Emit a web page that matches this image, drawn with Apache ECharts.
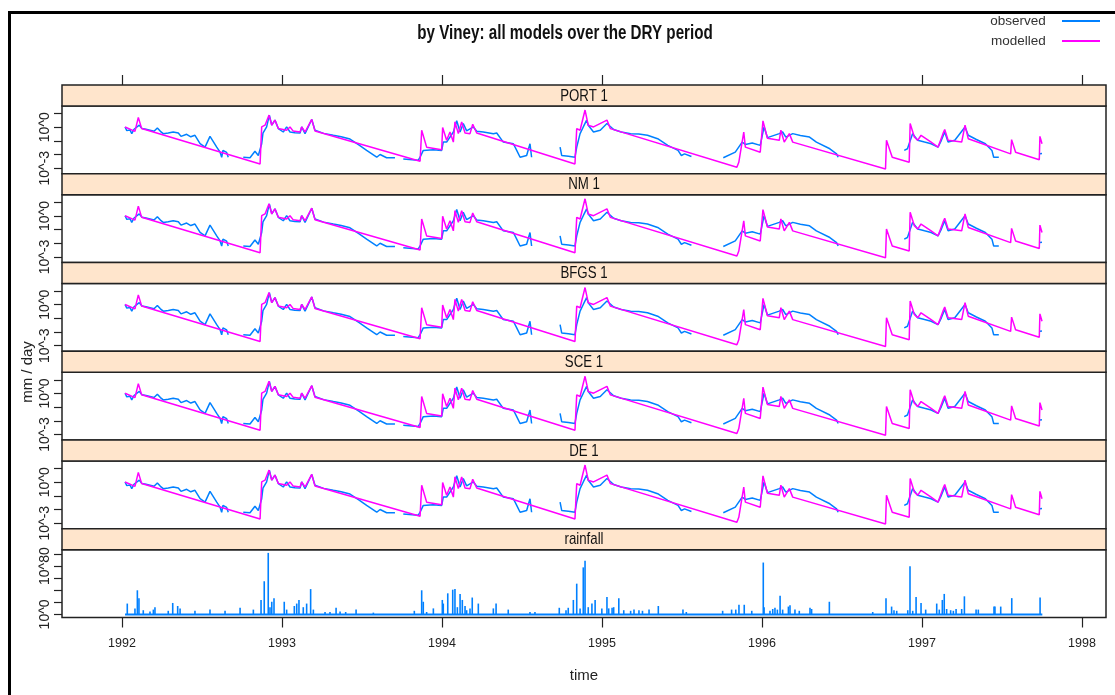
<!DOCTYPE html>
<html><head><meta charset="utf-8">
<script src="https://cdn.jsdelivr.net/npm/echarts@6/dist/echarts.min.js"></script>
<style>html,body{margin:0;padding:0;background:#fff}#c{width:1115px;height:695px}</style>
</head><body><div id="c"></div>
<script>
// ---------------- data ----------------
const yearTicks = [1992, 1993, 1994, 1995, 1996, 1997, 1998];
const flowTicks = [-3, -2, -1, 0, 1];          // log10(mm/day)
const flowLabels = [-3, 0];
const rainTicks = [0, 20, 40, 60, 80, 100];
const rainLabels = [0, 80];
const panelNames = ['PORT 1', 'NM 1', 'BFGS 1', 'SCE 1', 'DE 1', 'rainfall'];

// observed flow, [decimal year, log10(mm/day)], null = gap
const observedLog10 = [[1992.019,0.02],[1992.030,-0.25],[1992.038,-0.37],[1992.050,-0.20],[1992.061,-0.47],[1992.075,-0.15],[1992.108,0.15],[1992.125,-0.10],[1992.150,-0.15],[1992.175,-0.22],[1992.200,-0.30],[1992.221,-0.05],[1992.240,-0.30],[1992.258,-0.47],[1992.289,-0.42],[1992.320,-0.35],[1992.352,-0.42],[1992.369,-0.67],[1992.404,-0.52],[1992.430,-0.70],[1992.456,-0.59],[1992.488,-1.21],[1992.519,-1.46],[1992.550,-0.67],[1992.592,-1.46],[1992.613,-1.83],[1992.623,-2.20],[1992.631,-1.70],[1992.654,-1.85],[1992.664,-2.20],[1992.71,null],[1992.758,-2.20],[1992.800,-2.24],[1992.831,-1.76],[1992.852,-2.07],[1992.873,-1.21],[1992.881,-0.44],[1992.904,0.02],[1992.921,0.89],[1992.936,0.15],[1992.956,0.52],[1992.977,-0.10],[1993.008,-0.35],[1993.029,0.02],[1993.050,-0.35],[1993.080,-0.40],[1993.113,-0.42],[1993.123,0.02],[1993.144,-0.47],[1993.186,0.57],[1993.206,-0.22],[1993.260,-0.45],[1993.321,-0.59],[1993.370,-0.70],[1993.425,-0.87],[1993.480,-1.30],[1993.529,-1.70],[1993.592,-2.20],[1993.613,-2.00],[1993.654,-2.24],[1993.706,-2.24],[1993.73,null],[1993.758,-2.32],[1993.852,-2.42],[1993.863,-2.20],[1993.883,-1.70],[1993.946,-1.65],[1993.998,-1.70],[1994.008,-1.09],[1994.029,-1.09],[1994.071,-0.35],[1994.092,0.47],[1994.113,-0.35],[1994.133,0.27],[1994.154,-0.27],[1994.196,0.02],[1994.217,-0.30],[1994.258,-0.35],[1994.321,-0.47],[1994.342,-0.42],[1994.383,-1.09],[1994.446,-1.21],[1994.467,-1.70],[1994.488,-2.20],[1994.529,-2.07],[1994.550,-1.21],[1994.560,-2.20],[1994.65,null],[1994.738,-1.46],[1994.748,-2.07],[1994.790,-2.13],[1994.831,-2.20],[1994.842,-1.46],[1994.863,-0.47],[1994.883,0.02],[1994.904,0.52],[1994.914,0.15],[1994.947,-0.35],[1994.989,-0.22],[1995.031,0.27],[1995.073,-0.17],[1995.120,-0.35],[1995.179,-0.47],[1995.230,-0.50],[1995.284,-0.59],[1995.348,-0.84],[1995.411,-1.33],[1995.475,-1.70],[1995.496,-2.07],[1995.516,-1.95],[1995.559,-2.15],[1995.66,null],[1995.758,-2.24],[1995.833,-1.83],[1995.876,-1.09],[1995.896,-1.26],[1995.939,-1.16],[1995.989,-1.33],[1996.013,0.02],[1996.034,-0.76],[1996.108,-0.47],[1996.129,-0.35],[1996.149,-0.72],[1996.192,-0.47],[1996.240,-0.60],[1996.297,-0.72],[1996.340,-1.09],[1996.424,-1.58],[1996.466,-1.95],[1996.476,-2.20],[1996.67,null],[1996.889,-1.70],[1996.909,-1.58],[1996.941,-0.47],[1996.973,-0.96],[1997.016,-1.09],[1997.057,-1.21],[1997.100,-1.46],[1997.121,-0.96],[1997.142,-0.35],[1997.163,-1.09],[1997.205,-0.96],[1997.269,0.02],[1997.289,-0.59],[1997.340,-0.90],[1997.396,-1.21],[1997.437,-1.70],[1997.448,-2.20],[1997.480,-2.20],[1997.64,null],[1997.737,-1.95],[1997.750,-1.93]];

// modelled flow, [decimal year, log10(mm/day)]
const modelledPORT = [[1992.019,0.02],[1992.081,-0.30],[1992.102,0.72],[1992.123,-0.10],[1992.863,-2.69],[1992.873,0.02],[1992.894,0.15],[1992.919,0.89],[1992.936,0.15],[1992.956,0.52],[1992.977,-0.10],[1993.029,-0.22],[1993.050,0.02],[1993.069,-0.27],[1993.113,-0.35],[1993.123,0.02],[1993.144,-0.35],[1993.186,0.57],[1993.206,-0.27],[1993.863,-2.50],[1993.873,-0.22],[1993.904,-1.46],[1993.998,-1.65],[1994.004,-0.02],[1994.029,-0.96],[1994.050,-0.35],[1994.071,-1.09],[1994.081,0.39],[1994.102,-0.47],[1994.123,0.39],[1994.144,-0.42],[1994.175,-0.47],[1994.192,0.22],[1994.217,-0.42],[1994.831,-2.69],[1994.842,-0.10],[1994.863,-0.22],[1994.894,1.26],[1994.914,0.15],[1994.947,0.02],[1995.031,0.52],[1995.052,-0.10],[1995.843,-2.94],[1995.855,-2.57],[1995.886,-0.35],[1995.896,-1.46],[1995.989,-1.83],[1996.006,0.47],[1996.034,-0.81],[1996.108,-0.96],[1996.118,-0.22],[1996.139,-1.09],[1996.171,-0.47],[1996.192,-1.09],[1996.772,-3.06],[1996.778,-0.96],[1996.814,-2.20],[1996.920,-2.57],[1996.926,0.27],[1996.952,-0.72],[1996.973,-0.96],[1996.994,-0.59],[1997.057,-1.09],[1997.100,-1.46],[1997.131,-0.47],[1997.142,-0.17],[1997.163,-0.96],[1997.248,-1.09],[1997.269,0.15],[1997.289,-0.84],[1997.554,-1.95],[1997.560,-0.91],[1997.585,-1.83],[1997.733,-2.39],[1997.737,-0.67],[1997.750,-1.21]];
const modelledNM = modelledPORT;
const modelledBFGS = modelledPORT;
const modelledSCE = modelledPORT;
const modelledDE = modelledPORT;
const modelledSets = [modelledPORT, modelledNM, modelledBFGS, modelledSCE, modelledDE];

// rainfall, [decimal year, mm/day]
const rainfall = [[1992.033,18],[1992.081,10],[1992.096,40],[1992.106,27],[1992.133,7],[1992.175,5],[1992.196,8],[1992.206,12],[1992.289,6],[1992.317,19],[1992.348,14],[1992.363,10],[1992.456,6],[1992.550,8],[1992.644,6],[1992.738,11],[1992.821,8],[1992.869,24],[1992.889,55],[1992.914,102],[1992.925,12],[1992.936,21],[1992.950,27],[1993.014,21],[1993.029,8],[1993.077,14],[1993.092,18],[1993.106,24],[1993.133,12],[1993.154,18],[1993.179,42],[1993.196,8],[1993.269,4],[1993.300,4],[1993.338,11],[1993.363,5],[1993.398,4],[1993.463,8],[1993.571,3],[1993.827,6],[1993.873,40],[1993.883,21],[1993.904,4],[1993.946,10],[1994.002,24],[1994.008,18],[1994.036,35],[1994.067,41],[1994.081,42],[1994.096,12],[1994.113,34],[1994.127,24],[1994.144,14],[1994.154,7],[1994.175,10],[1994.189,28],[1994.227,18],[1994.321,10],[1994.338,18],[1994.414,8],[1994.550,4],[1994.581,4],[1994.733,11],[1994.775,7],[1994.789,11],[1994.821,24],[1994.842,51],[1994.863,10],[1994.883,78],[1994.894,89],[1994.914,12],[1994.937,18],[1994.957,24],[1994.999,10],[1995.031,29],[1995.042,10],[1995.063,11],[1995.073,12],[1995.105,27],[1995.136,7],[1995.179,6],[1995.200,8],[1995.231,7],[1995.253,6],[1995.294,8],[1995.352,14],[1995.506,8],[1995.527,4],[1995.754,6],[1995.810,8],[1995.836,8],[1995.856,16],[1995.889,16],[1995.936,6],[1996.008,86],[1996.013,12],[1996.050,6],[1996.067,9],[1996.081,11],[1996.096,8],[1996.113,31],[1996.129,8],[1996.165,13],[1996.175,15],[1996.206,8],[1996.233,6],[1996.300,11],[1996.310,9],[1996.421,21],[1996.692,4],[1996.775,27],[1996.810,13],[1996.825,7],[1996.842,6],[1996.911,7],[1996.925,80],[1996.942,6],[1996.963,29],[1996.994,19],[1997.023,8],[1997.092,18],[1997.108,8],[1997.127,24],[1997.139,34],[1997.154,9],[1997.179,7],[1997.196,6],[1997.213,9],[1997.248,9],[1997.265,30],[1997.338,8],[1997.352,8],[1997.450,13],[1997.456,13],[1997.492,13],[1997.561,27],[1997.738,28]];
const rainfallSpan = [1992.019, 1997.752];

// ---------------- layout / style ----------------
const SANS = "'Liberation Sans',Arial,sans-serif";
const BLUE = '#0080ff', MAGENTA = '#ff00ff', INK = '#222';
const LEFT = 62, RIGHT = 1106, WIDTH = RIGHT - LEFT;
const TOP0 = 85, STEP = 88.75, STRIP = 21, PLOT = STEP - STRIP;
const XMIN = 1991.625, XMAX = 1998.15;

const stripTop = i => TOP0 + i * STEP;
const plotTop = i => stripTop(i) + STRIP;
const withGaps = arr => arr.map(p => [p[0], p[1] === null ? '-' : p[1]]);

const grids = [], xAxes = [], yAxes = [], series = [], graphics = [];

for (let i = 0; i < 6; i++) {
  grids.push({left: LEFT, top: plotTop(i), width: WIDTH, height: PLOT,
    show: true, borderColor: INK, borderWidth: 1.5, backgroundColor: 'transparent', containLabel: false});
  const isTop = i === 0, isBottom = i === 5;
  xAxes.push({
    gridIndex: i, type: 'value', min: XMIN, max: XMAX,
    show: isTop || isBottom,
    position: isTop ? 'top' : 'bottom',
    offset: isTop ? STRIP : 0,
    axisLine: {show: false, onZero: false},
    axisTick: {show: true, length: 10, customValues: yearTicks, lineStyle: {color: INK, width: 1.2}},
    axisLabel: {show: isBottom, customValues: yearTicks, margin: 20, fontFamily: SANS, fontSize: 12.5, color: '#222',
      formatter: v => String(v)},
    splitLine: {show: false},
    name: isBottom ? 'time' : '', nameLocation: 'middle', nameGap: 51,
    nameTextStyle: {fontFamily: SANS, fontSize: 15, color: '#222'}
  });
  const rain = i === 5;
  yAxes.push({
    gridIndex: i, type: 'value',
    min: rain ? -5.1 : -3.41, max: rain ? 107.2 : 1.556,
    axisLine: {show: false, onZero: false},
    axisTick: {show: true, length: 8, customValues: rain ? rainTicks : flowTicks, lineStyle: {color: INK, width: 1.2}},
    axisLabel: {show: true, customValues: rain ? rainLabels : flowLabels, rotate: 90, margin: 10,
      fontFamily: SANS, fontSize: 14, color: '#222', formatter: v => '10^' + v},
    splitLine: {show: false}
  });
  graphics.push({type: 'rect', shape: {x: LEFT, y: stripTop(i), width: WIDTH, height: STRIP},
    style: {fill: '#ffe5cc', stroke: INK, lineWidth: 1.5}, z: 1});
  graphics.push({type: 'text', x: (LEFT + RIGHT) / 2, y: stripTop(i) + STRIP / 2 + 0.5, scaleX: 0.78, z: 2,
    style: {text: panelNames[i], font: '17px ' + SANS, fill: '#111', textAlign: 'center', textVerticalAlign: 'middle'}});
}

for (let i = 0; i < 5; i++) {
  series.push({type: 'line', name: 'observed', xAxisIndex: i, yAxisIndex: i, data: withGaps(observedLog10),
    showSymbol: false, connectNulls: false, lineStyle: {color: BLUE, width: 1.5}, itemStyle: {color: BLUE}, z: 2});
  series.push({type: 'line', name: 'modelled', xAxisIndex: i, yAxisIndex: i, data: withGaps(modelledSets[i]),
    showSymbol: false, lineStyle: {color: MAGENTA, width: 1.5}, itemStyle: {color: MAGENTA}, z: 3});
}
series.push({type: 'bar', name: 'rainfall', xAxisIndex: 5, yAxisIndex: 5, data: rainfall,
  barWidth: 1.6, itemStyle: {color: BLUE}, z: 2});
series.push({type: 'line', name: 'rainfall', xAxisIndex: 5, yAxisIndex: 5, data: rainfallSpan.map(t => [t, 0]),
  showSymbol: false, lineStyle: {color: BLUE, width: 2}, itemStyle: {color: BLUE}, z: 2});

// outer frame, title, y-axis title
graphics.push({type: 'rect', shape: {x: 9.5, y: 12.5, width: 1300, height: 900},
  style: {fill: null, stroke: '#000', lineWidth: 3}, z: 5});
graphics.push({type: 'text', x: 565, y: 33, scaleX: 0.76, z: 2,
  style: {text: 'by Viney: all models over the DRY period', font: 'bold 20px ' + SANS, fill: '#111',
    textAlign: 'center', textVerticalAlign: 'middle'}});
graphics.push({type: 'text', x: 28, y: 372, rotation: Math.PI / 2, z: 2,
  style: {text: 'mm / day', font: '15px ' + SANS, fill: '#222', textAlign: 'center', textVerticalAlign: 'middle'}});

const chart = echarts.init(document.getElementById('c'));
chart.setOption({
  animation: false,
  backgroundColor: '#fff',
  legend: {data: ['observed', 'modelled'], orient: 'vertical', right: 10, top: 9, align: 'right',
    icon: 'rect', itemWidth: 38, itemHeight: 2, itemGap: 6, selectedMode: false,
    formatter: n => n + '   ',
    textStyle: {fontFamily: SANS, fontSize: 13.5, color: '#333'}},
  grid: grids, xAxis: xAxes, yAxis: yAxes, series: series, graphic: graphics
});
</script></body></html>
